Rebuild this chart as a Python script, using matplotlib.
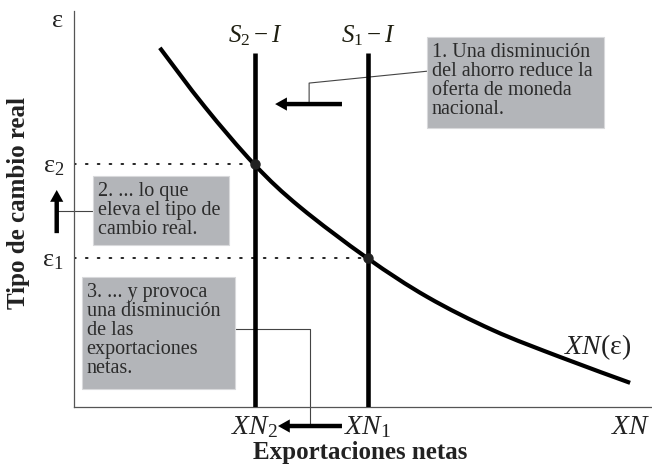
import numpy as np
import matplotlib
matplotlib.use('Agg')
import matplotlib.pyplot as plt
from matplotlib.patches import Rectangle, PathPatch
from matplotlib.path import Path

plt.rcParams.update({
    'font.family': 'Liberation Serif',
    'mathtext.fontset': 'custom',
    'mathtext.rm': 'Liberation Serif',
    'mathtext.it': 'Liberation Serif:italic',
    'mathtext.bf': 'Liberation Serif:bold',
})

# Curve XN(eps)
curve_x = [1.49, 2.27, 3.14, 3.92, 5.09, 6.13, 7.27, 8.44, 9.65]
curve_y = [9.07, 7.58, 6.11, 5.05, 3.76, 2.78, 1.94, 1.26, 0.61]

# Savings minus investment (vertical) lines
xn_values = [5.10, 3.14]          # XN1, XN2
xn_labels = [r'$XN_1$', r'$XN_2$']
si_labels = [r'$S_1 - I$', r'$S_2 - I$']
si_top = 8.94

# Equilibrium real exchange rates
eps_values = [3.76, 6.14]         # eps1, eps2
eps_labels = [r'$\mathrm{\varepsilon}_1$', r'$\mathrm{\varepsilon}_2$']

box_texts = [
    '1. Una disminución\ndel ahorro reduce la\noferta de moneda\nnacional.',
    '2. ... lo que\neleva el tipo de\ncambio real.',
    '3. ... y provoca\nuna disminución\nde las\nexportaciones\nnetas.',
]

box_gray = '#b3b5b9'
text_col = '#2b2b2b'


def smooth_path(xs, ys):
    # cubic bezier segments through the points (Catmull-Rom control points)
    p = np.column_stack([xs, ys])
    verts = [p[0]]
    codes = [Path.MOVETO]
    for i in range(len(p) - 1):
        p0 = p[i - 1] if i > 0 else p[i]
        p3 = p[i + 2] if i + 2 < len(p) else p[i + 1]
        c1 = p[i] + (p[i + 1] - p0) / 6
        c2 = p[i + 1] - (p3 - p[i]) / 6
        verts += [c1, c2, p[i + 1]]
        codes += [Path.CURVE4] * 3
    return Path(verts, codes)


fig = plt.figure(figsize=(6.52, 4.68), dpi=100)
ax = fig.add_axes([74 / 652, 61 / 468, 578 / 652, 396 / 468])
ax.set_xlim(0, 10.03)
ax.set_ylim(0, 10)
ax.spines['top'].set_visible(False)
ax.spines['right'].set_visible(False)
for s in ['left', 'bottom']:
    ax.spines[s].set_color('#555555')
    ax.spines[s].set_linewidth(0.9)
ax.set_xticks([])
ax.set_yticks([])

# dotted guides
for xv, ev in zip(xn_values, eps_values):
    ax.plot([0, xv], [ev, ev], color='#222222', lw=1.4, dashes=[0.9, 5.2],
            dash_capstyle='round', zorder=1)

# vertical S - I lines
for xv, lab in zip(xn_values, si_labels):
    ax.plot([xv, xv], [0, si_top], color='black', lw=3.3, solid_capstyle='butt', zorder=3)
    ax.text(xv, si_top + 0.12, lab, ha='center', va='bottom', fontsize=18, color='#1e1e10')

# XN curve
ax.add_patch(PathPatch(smooth_path(curve_x, curve_y), facecolor='none',
                       edgecolor='black', lw=3.0, capstyle='butt', zorder=3))
ax.text(8.5, 1.5, r'$XN(\mathrm{\varepsilon})$', fontsize=20, color='#222222',
        ha='left', va='center')

# intersection points
ax.plot(xn_values, eps_values, 'o', color='#222222', ms=6.5, zorder=4)

# y-axis labels
ax.text(-0.3, 9.75, r'$\mathrm{\varepsilon}$', fontsize=19, ha='center', va='center',
        color='#222222', clip_on=False)
for ev, lab in zip(eps_values, eps_labels):
    ax.text(-0.36, ev - 0.08, lab, fontsize=19, ha='center', va='center',
            color='#222222', clip_on=False)

# x-axis labels
for xv, lab in zip(xn_values, xn_labels):
    ax.text(xv, -0.52, lab, fontsize=20, ha='center', va='center', color='#222222',
            clip_on=False)
ax.text(10.0, -0.52, r'$XN$', fontsize=20, ha='right', va='center', color='#222222',
        clip_on=False)

fig.text(0.028, 0.566, 'Tipo de cambio real', rotation=90, ha='center', va='center',
         fontsize=18, fontweight='bold', color='#222222')
fig.text(0.552, 0.034, 'Exportaciones netas', ha='center', va='center',
         fontsize=18, fontweight='bold', color='#222222')

# annotation boxes
boxes = [(6.13, 7.05, 3.06, 2.29), (0.33, 4.09, 2.36, 1.74), (0.14, 0.45, 2.66, 2.83)]
for (bx, by, bw, bh), txt in zip(boxes, box_texts):
    ax.add_patch(Rectangle((bx, by), bw, bh, facecolor=box_gray, edgecolor='#d8d9db',
                           lw=0.8, zorder=5, clip_on=False))
    ax.text(bx + 0.08, by + bh - 0.15, txt, ha='left', va='top', fontsize=14.5,
            color=text_col, linespacing=1.0, zorder=6, clip_on=False)

# connectors
conn_kw = dict(color='#444444', lw=0.8, clip_on=False, zorder=2)
ax.plot([6.13, 4.08, 4.08], [8.48, 8.18, 7.65], **conn_kw)
ax.plot([0.33, -0.30], [4.95, 4.95], **conn_kw)
ax.plot([2.80, 4.10, 4.10], [1.97, 1.97, -0.48], **conn_kw)

# thick arrows
arrow_kw = dict(arrowstyle='simple,head_length=0.85,head_width=0.95,tail_width=0.32',
                mutation_scale=10, color='black', lw=0, shrinkA=0, shrinkB=0)
ax.annotate('', xy=(3.49, 7.65), xytext=(4.65, 7.65), arrowprops=arrow_kw,
            annotation_clip=False)
ax.annotate('', xy=(-0.30, 5.48), xytext=(-0.30, 4.39), arrowprops=arrow_kw,
            annotation_clip=False)
ax.annotate('', xy=(3.54, -0.48), xytext=(4.65, -0.48), arrowprops=arrow_kw,
            annotation_clip=False)

plt.savefig('out.png', dpi=100)
